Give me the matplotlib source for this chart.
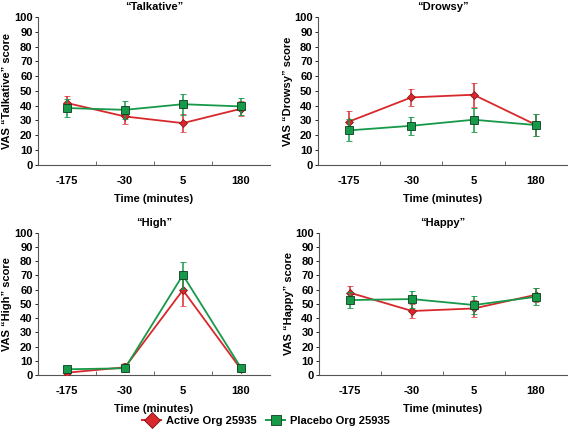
import matplotlib
matplotlib.use("Agg")
import matplotlib.pyplot as plt
from matplotlib.lines import Line2D

plt.rcParams['font.family'] = ['Liberation Sans', 'DejaVu Sans']
plt.rcParams['font.weight'] = 'bold'

times = ["-175", "-30", "5", "180"]
panels = ["Talkative", "Drowsy", "High", "Happy"]

active_mean = {
    "Talkative": [41.8, 32.7, 28.2, 37.9],
    "Drowsy": [29.3, 45.6, 47.4, 27.1],
    "High": [1.6, 5.4, 59.7, 4.2],
    "Happy": [57.8, 45.0, 46.8, 56.4],
}
active_err = {
    "Talkative": [5, 5, 6, 5],
    "Drowsy": [7, 5.5, 8, 7.5],
    "High": [1.5, 3, 11, 2],
    "Happy": [5, 5, 6, 5],
}
placebo_mean = {
    "Talkative": [38.4, 37.2, 41.0, 39.5],
    "Drowsy": [23.3, 26.4, 30.5, 26.9],
    "High": [4.0, 4.7, 70.3, 5.2],
    "Happy": [52.7, 53.4, 49.2, 55.0],
}
placebo_err = {
    "Talkative": [6, 6, 7, 6],
    "Drowsy": [7.5, 6, 8, 7.7],
    "High": [1.5, 1.5, 9.5, 2],
    "Happy": [5.5, 6, 6.5, 6],
}

red = "#d8282c"
green = "#17994a"

fig = plt.figure(figsize=(5.68, 4.36), dpi=100)
positions = [
    [0.067, 0.622, 0.408, 0.339],
    [0.560, 0.622, 0.438, 0.339],
    [0.067, 0.140, 0.408, 0.326],
    [0.562, 0.140, 0.436, 0.326],
]

for name, pos in zip(panels, positions):
    ax = fig.add_axes(pos)
    x = list(range(len(times)))
    ax.errorbar(x, active_mean[name], yerr=active_err[name], color=red, lw=1.3,
                marker='D', ms=4, mfc=red, mec='#7a1010', mew=0.5,
                capsize=2, elinewidth=1.1, capthick=1.1, zorder=3)
    ax.errorbar(x, placebo_mean[name], yerr=placebo_err[name], color=green, lw=1.3,
                marker='s', ms=5.5, mfc=green, mec='#0b3d1d', mew=0.6,
                capsize=2, elinewidth=1.1, capthick=1.1, zorder=4)
    ax.set_xlim(-0.5, 3.5)
    ax.set_ylim(0, 100)
    ax.set_yticks(range(0, 101, 10))
    ax.set_xticks(x)
    ax.set_xticklabels(times)
    ax.set_xticks([0.5, 1.5, 2.5], minor=True)
    ax.tick_params(axis='x', which='major', length=0, labelsize=8, pad=8)
    ax.tick_params(axis='x', which='minor', length=3, direction='in', width=0.6, color='#555555')
    ax.tick_params(axis='y', length=2.5, width=0.6, labelsize=8, pad=1.5)
    for lab in ax.get_xticklabels() + ax.get_yticklabels():
        lab.set_fontweight('bold')
    for s in ['top', 'right']:
        ax.spines[s].set_visible(False)
    for s in ['left', 'bottom']:
        ax.spines[s].set_linewidth(0.8)
        ax.spines[s].set_color('#555555')
    ax.set_title("\u201c" + name + "\u201d", fontsize=8, fontweight='bold', pad=5)
    ax.set_ylabel("VAS \u201c" + name + "\u201d score", fontsize=8, fontweight='bold', labelpad=1)
    ax.set_xlabel("Time (minutes)", fontsize=8, fontweight='bold', labelpad=6)

handles = [
    Line2D([], [], color=red, lw=1.4, marker='D', ms=8, mfc=red, mec='#7a1010', mew=0.6),
    Line2D([], [], color=green, lw=1.4, marker='s', ms=7.5, mfc=green, mec='#0b3d1d', mew=0.6),
]
fig.legend(handles, ["Active Org 25935", "Placebo Org 25935"], loc='center',
           bbox_to_anchor=(0.468, 0.034), ncol=2, frameon=False,
           prop={'size': 8, 'weight': 'bold'}, handlelength=1.7, columnspacing=0.9,
           handletextpad=0.4)

fig.savefig("out.png", dpi=100)
